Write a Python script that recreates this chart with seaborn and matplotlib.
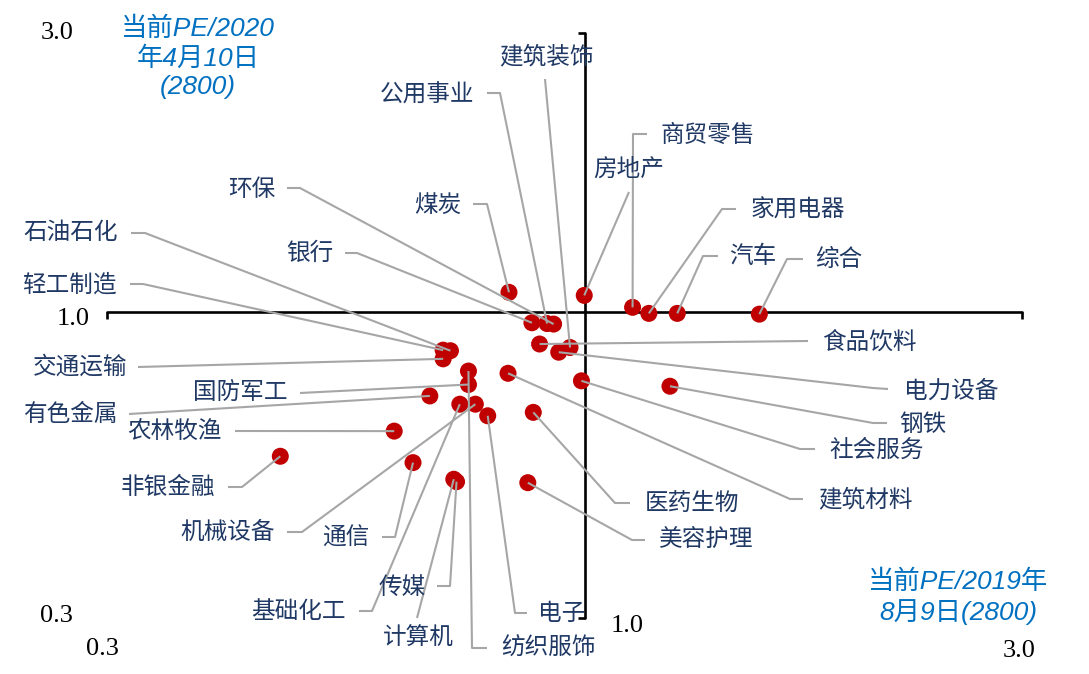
import numpy as np
import matplotlib.pyplot as plt
import seaborn as sns

# ── Data: PE relative to 2800 points, two dates ────────────────────────────────
industries = ["综合", "汽车", "家用电器", "商贸零售", "房地产", "煤炭", "建筑装饰",
              "公用事业", "环保", "银行", "石油石化", "轻工制造", "交通运输", "食品饮料",
              "电力设备", "钢铁", "社会服务", "建筑材料", "医药生物", "美容护理",
              "国防军工", "纺织服饰", "有色金属", "农林牧渔", "非银金融", "机械设备",
              "基础化工", "通信", "传媒", "计算机", "电子"]
pe_2019 = [1.549, 1.260, 1.173, 1.126, 0.997, 0.825, 0.962,
           0.908, 0.923, 0.874, 0.712, 0.699, 0.699, 0.891,
           0.935, 1.237, 0.990, 0.823, 0.877, 0.865,
           0.745, 0.745, 0.676, 0.618, 0.464, 0.758,
           0.729, 0.648, 0.723, 0.718, 0.782]
pe_2020 = [0.992, 0.995, 0.995, 1.019, 1.068, 1.081, 0.870,
           0.956, 0.954, 0.959, 0.859, 0.861, 0.832, 0.882,
           0.854, 0.747, 0.763, 0.786, 0.674, 0.511,
           0.752, 0.793, 0.719, 0.626, 0.567, 0.696,
           0.696, 0.553, 0.513, 0.518, 0.665]

AXIS_TICKS = ["0.3", "1.0", "3.0"]
Y_TITLE = "当前PE/2020\n年4月10日\n(2800)"
X_TITLE = "当前PE/2019年\n8月9日(2800)"

# ── Colours ────────────────────────────────────────────────────────────────────
RED = "#C00000"
GRAY = "#A6A6A6"
NAVY = "#1F3864"
BLUE = "#0070C0"

# ── Layout (figure pixels, origin top-left) ────────────────────────────────────
W, H = 1089, 674
AX_L, AX_T, AX_W, AX_H = 107, 33, 915, 585

# label centre, then leader points from the label end towards the dot
LABELS = {
    "综合":     ((839, 260), [(803, 259), (787, 259)]),
    "汽车":     ((753, 257), [(718, 256), (703, 256)]),
    "家用电器": ((798, 210), [(736, 209), (722, 209)]),
    "商贸零售": ((708, 135), [(647, 134), (633, 134)]),
    "房地产":   ((629, 169), [(629, 192)]),
    "建筑装饰": ((546, 57),  [(545, 79)]),
    "公用事业": ((427, 95),  [(487, 93), (500, 93)]),
    "煤炭":     ((438, 205), [(473, 204), (487, 204)]),
    "环保":     ((252, 189), [(287, 188), (300, 188)]),
    "银行":     ((310, 253), [(345, 253), (357, 253)]),
    "石油石化": ((71, 233),  [(131, 233), (145, 233)]),
    "轻工制造": ((69, 285),  [(130, 284), (143, 284)]),
    "交通运输": ((80, 367),  [(138, 367)]),
    "国防军工": ((240, 393), [(300, 393)]),
    "有色金属": ((70, 414),  [(129, 414)]),
    "农林牧渔": ((174, 431), [(235, 431)]),
    "非银金融": ((168, 487), [(228, 487), (242, 487)]),
    "机械设备": ((228, 532), [(287, 532), (302, 532)]),
    "通信":     ((346, 538), [(382, 537), (395, 537)]),
    "基础化工": ((298, 612), [(359, 611), (372, 611)]),
    "传媒":     ((402, 587), [(437, 586), (450, 586)]),
    "计算机":   ((418, 638), [(417, 618)]),
    "纺织服饰": ((548, 648), [(487, 648), (472, 648)]),
    "电子":     ((562, 613), [(527, 613), (515, 613)]),
    "美容护理": ((706, 540), [(645, 540), (632, 540)]),
    "医药生物": ((692, 503), [(630, 503), (615, 503)]),
    "建筑材料": ((865, 500), [(803, 499), (790, 499)]),
    "社会服务": ((877, 450), [(815, 449), (800, 449)]),
    "钢铁":     ((923, 424), [(887, 423), (873, 423)]),
    "电力设备": ((951, 391), [(888, 389), (873, 388)]),
    "食品饮料": ((869, 342), [(808, 341)]),
}


def px(x, y):
    """Reference pixel -> data coords on the 0.3..3 log axes."""
    return 0.3 * 10 ** ((x - AX_L) / AX_W), 3.0 * 10 ** (-(y - AX_T) / AX_H)


sns.set_theme(style="white")
plt.rcParams["font.family"] = ["Noto Sans CJK SC", "DejaVu Sans"]

fig = plt.figure(figsize=(W / 100, H / 100), dpi=100)
ax = fig.add_axes([AX_L / W, 1 - (AX_T + AX_H) / H, AX_W / W, AX_H / H])
ax.set_xscale("log")
ax.set_yscale("log")
ax.set_xlim(0.3, 3.0)
ax.set_ylim(0.3, 3.0)
ax.set_axis_off()

# cross-hair axes at 1.0 with end ticks
ax.plot([0.3, 3.0], [1.0, 1.0], color="black", lw=1.9, zorder=1, clip_on=False)
ax.plot([1.0, 1.0], [0.3, 3.0], color="black", lw=1.9, zorder=1, clip_on=False)
ax.plot([0.3, 3.0], [1.0, 1.0], ls="none", marker=3, ms=5, mew=1.9, color="black", clip_on=False)
ax.plot([1.0, 1.0], [0.3, 3.0], ls="none", marker=0, ms=5, mew=1.9, color="black", clip_on=False)

sns.scatterplot(x=pe_2019, y=pe_2020, ax=ax, s=150, color=RED,
                edgecolor="none", zorder=3, clip_on=False, legend=False)

for name, xv, yv in zip(industries, pe_2019, pe_2020):
    (tx, ty), leader = LABELS[name]
    pts = [px(*p) for p in leader] + [(xv, yv)]
    ax.plot([p[0] for p in pts], [p[1] for p in pts], color=GRAY, lw=1.5,
            zorder=4, clip_on=False, solid_capstyle="butt")
    ax.text(*px(tx, ty), name, color=NAVY, fontsize=17,
            ha="center", va="center", zorder=5)

# axis value labels
serif = dict(family="Liberation Serif", fontsize=19, color="black",
             ha="center", va="center")
for lab, (x, y) in zip(AXIS_TICKS, [(56, 616), (73, 319), (57, 33)]):
    ax.text(*px(x, y), lab, **serif)
for lab, (x, y) in zip(AXIS_TICKS, [(102, 649), (627, 626), (1019, 651)]):
    ax.text(*px(x, y), lab, **serif)

title_kw = dict(family=["Liberation Sans", "Noto Sans CJK SC"], style="italic",
                fontsize=19, color=BLUE, ha="center", va="center",
                multialignment="center", linespacing=1.25)
ax.text(*px(198, 58), Y_TITLE, **title_kw)
ax.text(*px(958, 597), X_TITLE, **title_kw)

fig.savefig("out.png", dpi=100)
